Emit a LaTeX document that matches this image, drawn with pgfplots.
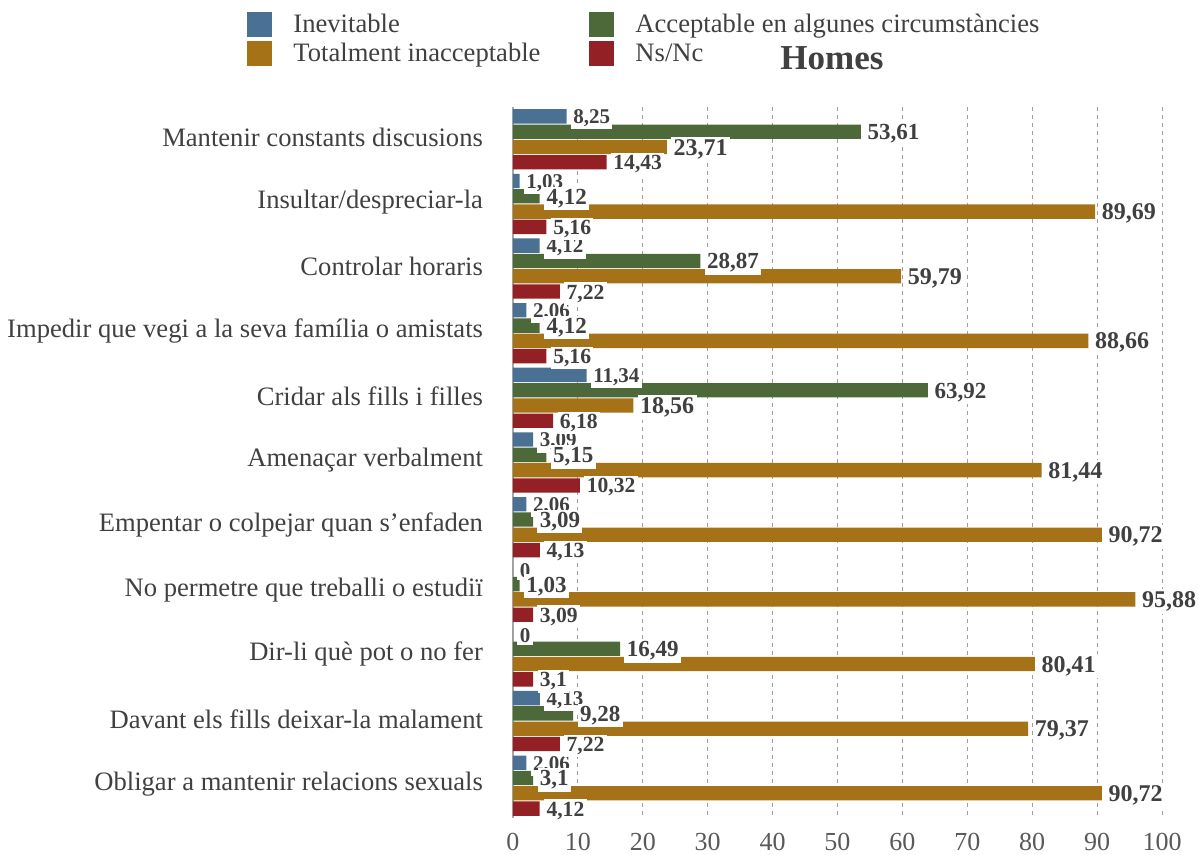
\documentclass[border=0pt]{standalone}
\usepackage{pgfplots}
\usepackage{pgfplotstable}
\pgfplotsset{compat=1.18}
\usepackage{fontspec}
\setmainfont{Liberation Serif}
\definecolor{cblue}{RGB}{74,112,148}
\definecolor{cgreen}{RGB}{77,105,58}
\definecolor{corange}{RGB}{166,114,24}
\definecolor{cred}{RGB}{146,32,36}
\definecolor{txt}{RGB}{64,64,64}
\definecolor{tickc}{RGB}{89,89,89}
\pgfplotstableread{
y  a     b     c     d     la    lb    lc    ld
0  8.25  53.61 23.71 14.43 8,25  53,61 23,71 14,43
1  1.03  4.12  89.69 5.16  1,03  4,12  89,69 5,16
2  4.12  28.87 59.79 7.22  4,12  28,87 59,79 7,22
3  2.06  4.12  88.66 5.16  2,06  4,12  88,66 5,16
4  11.34 63.92 18.56 6.18  11,34 63,92 18,56 6,18
5  3.09  5.15  81.44 10.32 3,09  5,15  81,44 10,32
6  2.06  3.09  90.72 4.13  2,06  3,09  90,72 4,13
7  0     1.03  95.88 3.09  0     1,03  95,88 3,09
8  0     16.49 80.41 3.1   0     16,49 80,41 3,1
9  4.13  9.28  79.37 7.22  4,13  9,28  79,37 7,22
10 2.06  3.1   90.72 4.12  2,06  3,1   90,72 4,12
}\data
\begin{document}
\begin{tikzpicture}
\useasboundingbox (-256.5pt,-18.5pt) rectangle (343pt,409pt);
\begin{axis}[
  scale only axis, width=324.5pt, height=355.5pt,
  at={(0,0)}, anchor=south west,
  xbar, bar width=0.222,
  xmin=0, xmax=100, ymin=-0.5, ymax=10.5, y dir=reverse,
  xtick={0,10,...,100}, ytick={0,1,...,10},
  yticklabels={Mantenir constants discusions, Insultar/despreciar-la, Controlar horaris, Impedir que vegi a la seva família o amistats, Cridar als fills i filles, Amenaçar verbalment, Empentar o colpejar quan s'enfaden, No permetre que treballi o estudiï, Dir-li què pot o no fer, Davant els fills deixar-la malament, Obligar a mantenir relacions sexuals},
  /pgf/number format/assume math mode=true,
  xticklabel style={font=\fontsize{13}{13}\selectfont, text=tickc, yshift=-4pt},
  yticklabel style={font=\fontsize{13.3}{13.3}\selectfont, text=txt, xshift=-11.5pt, yshift=1pt},
  major tick length=0pt,
  axis lines*=left,
  x axis line style={draw=none},
  y axis line style={draw=gray!70, line width=0.6pt},
  xmajorgrids, grid style={gray!75, dash pattern=on 2pt off 2pt, line width=0.5pt},
  every node near coord/.append style={anchor=west, fill=white, inner sep=1.2pt, text=txt, xshift=2pt, yshift=-1pt},
  legend columns=2,
  legend cell align=left,
  legend style={at={(-0.419,1.143)}, anchor=north west, draw=none, fill=none, text=txt, font=\fontsize{13.3}{14.5}\selectfont, /tikz/every even column/.append style={column sep=22.5pt}, /tikz/every odd column/.append style={column sep=8.5pt}, row sep=0pt},
  legend image code/.code={\fill[#1] (0pt,-6.25pt) rectangle (12.5pt,6.25pt);},
  every axis title shift=0pt,
  title={\bfseries Homes},
  title style={at={(0.4915,1.068)}, anchor=center, text=txt, font=\fontsize{17.5}{17.5}\selectfont},
  lbl/.style={draw=none, fill=none, forget plot, nodes near coords, point meta=explicit symbolic},
]
\addplot[fill=cblue, draw=none, bar shift=-0.355] table[x=a, y=y] {\data};
\addlegendentry{Inevitable}
\addplot[fill=cgreen, draw=none, bar shift=-0.118] table[x=b, y=y] {\data};
\addlegendentry{Acceptable en algunes circumstàncies}
\addplot[fill=corange, draw=none, bar shift=0.118] table[x=c, y=y] {\data};
\addlegendentry{Totalment inacceptable}
\addplot[fill=cred, draw=none, bar shift=0.355] table[x=d, y=y] {\data};
\addlegendentry{Ns/Nc}
\addplot[lbl, bar shift=-0.355, every node near coord/.append style={font=\bfseries\fontsize{10.5}{10.5}\selectfont}] table[x=a, y=y, meta=la] {\data};
\addplot[lbl, bar shift=-0.118, every node near coord/.append style={font=\bfseries\fontsize{11.5}{11.5}\selectfont}] table[x=b, y=y, meta=lb] {\data};
\addplot[lbl, bar shift=0.118, every node near coord/.append style={font=\bfseries\fontsize{12}{12}\selectfont}] table[x=c, y=y, meta=lc] {\data};
\addplot[lbl, bar shift=0.355, every node near coord/.append style={font=\bfseries\fontsize{10.8}{10.8}\selectfont}] table[x=d, y=y, meta=ld] {\data};
\end{axis}
\end{tikzpicture}
\end{document}
